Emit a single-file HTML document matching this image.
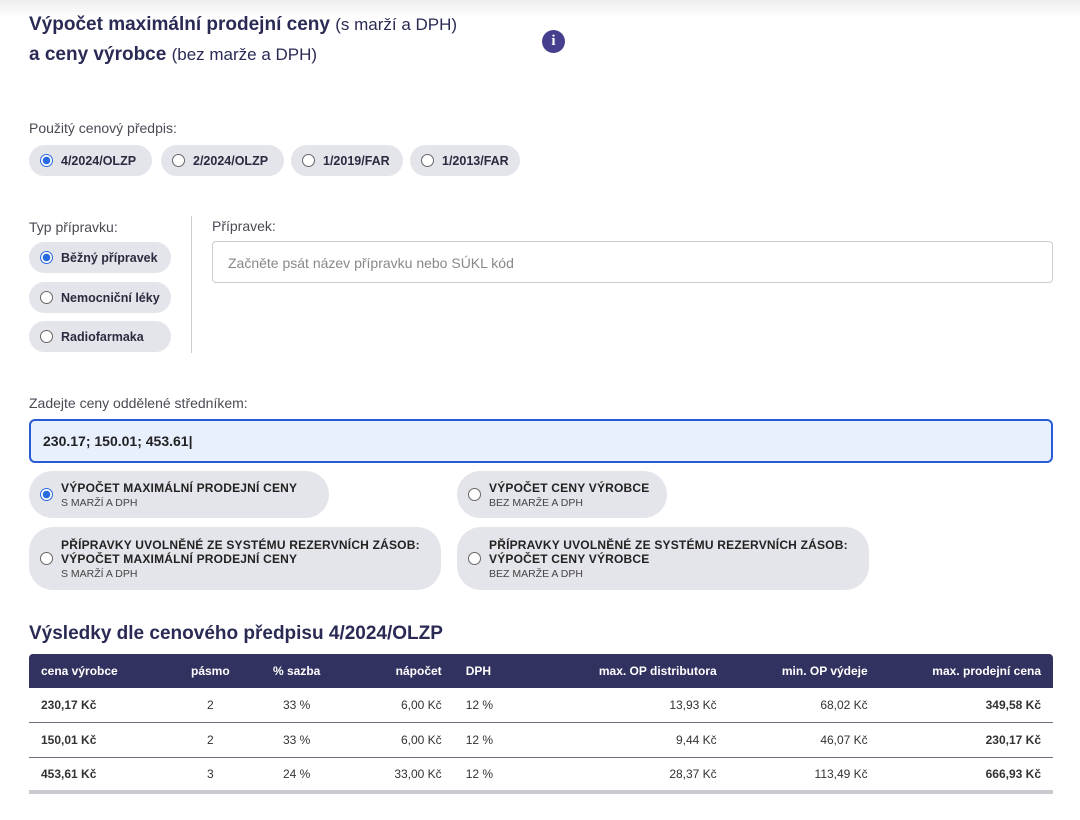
<!DOCTYPE html>
<html><head><meta charset="utf-8"><style>
*{box-sizing:border-box;margin:0;padding:0}
body{width:1080px;height:820px;background:#fff;font-family:"Liberation Sans",sans-serif;color:#26274a;position:relative;overflow:hidden}
.topfade{position:absolute;left:0;top:0;width:1080px;height:18px;background:linear-gradient(#ededed,#fff)}
.abs{position:absolute}
.h{font-weight:bold;font-size:19px;color:#2a2b55;white-space:nowrap}
.h span{font-weight:normal;font-size:17px}
.lbl{font-size:14px;color:#4a4a55;white-space:nowrap}
.pill{position:absolute;background:#e4e5ea;border-radius:16px;font-size:12.5px;font-weight:bold;color:#2a2b40;display:flex;align-items:center;white-space:nowrap}
.rad{width:13px;height:13px;border:1px solid #666;border-radius:50%;background:#fff;display:inline-block;margin:0 8px 0 11px;flex:none}
.rad.on{border:1px solid #2a6ae0;background:radial-gradient(circle,#2a6ae0 3.5px,#fff 4px)}
.opt{position:absolute;background:#e4e5ea;border-radius:24px;display:flex;align-items:center;font-size:12px;color:#222}
.opt b{display:block;font-weight:bold;letter-spacing:.2px}
.opt i{display:block;font-style:normal;font-size:10.5px;color:#444;margin-top:2px}
table{position:absolute;left:29px;top:654px;width:1024px;border-collapse:collapse;font-size:12px}
th{background:#31325f;color:#fff;height:34px;font-weight:bold;padding:0 12px}
td{height:34.5px;padding:0 12px;border-bottom:1px solid #6c6d80;color:#333}
tr:last-child td{border-bottom:4px solid #c9cad0}
.l{text-align:left}.r{text-align:right}.c{text-align:center}
</style></head><body>
<div class="topfade"></div>
<div class="abs h" style="left:29px;top:14px">Výpočet maximální prodejní ceny <span>(s marží a DPH)</span></div>
<div class="abs h" style="left:29px;top:44px">a ceny výrobce <span>(bez marže a DPH)</span></div>
<div class="abs" style="left:542px;top:30px;width:23px;height:23px;border-radius:50%;background:#463f8e;color:#fff;font:bold 15px 'Liberation Serif',serif;text-align:center;line-height:23px">i</div>

<div class="abs lbl" style="left:29px;top:120px">Použitý cenový předpis:</div>
<div class="pill" style="left:29px;top:145px;width:123px;height:31px"><span class="rad on"></span>4/2024/OLZP</div>
<div class="pill" style="left:161px;top:145px;width:123px;height:31px"><span class="rad"></span>2/2024/OLZP</div>
<div class="pill" style="left:291px;top:145px;width:112px;height:31px"><span class="rad"></span>1/2019/FAR</div>
<div class="pill" style="left:410px;top:145px;width:110px;height:31px"><span class="rad"></span>1/2013/FAR</div>

<div class="abs lbl" style="left:29px;top:219px">Typ přípravku:</div>
<div class="pill" style="left:29px;top:242px;width:142px;height:31px"><span class="rad on"></span>Běžný přípravek</div>
<div class="pill" style="left:29px;top:282px;width:142px;height:31px"><span class="rad"></span>Nemocniční léky</div>
<div class="pill" style="left:29px;top:321px;width:142px;height:31px"><span class="rad"></span>Radiofarmaka</div>
<div class="abs" style="left:191px;top:216px;width:1px;height:137px;background:#ccc"></div>
<div class="abs lbl" style="left:212px;top:218px">Přípravek:</div>
<div class="abs" style="left:212px;top:241px;width:841px;height:42px;border:1px solid #ccc;border-radius:4px;font-size:14px;color:#888;padding:13px 15px">Začněte psát název přípravku nebo SÚKL kód</div>

<div class="abs lbl" style="left:29px;top:395px">Zadejte ceny oddělené středníkem:</div>
<div class="abs" style="left:29px;top:419px;width:1024px;height:44px;border:2px solid #2a5bd7;border-radius:6px;background:#e8effd;font-size:14px;font-weight:bold;color:#222;padding:12px 12px">230.17; 150.01; 453.61|</div>

<div class="opt" style="left:29px;top:471px;width:300px;height:47px"><span class="rad on"></span><div><b>VÝPOČET MAXIMÁLNÍ PRODEJNÍ CENY</b><i>S MARŽÍ A DPH</i></div></div>
<div class="opt" style="left:457px;top:471px;width:210px;height:47px"><span class="rad"></span><div><b>VÝPOČET CENY VÝROBCE</b><i>BEZ MARŽE A DPH</i></div></div>
<div class="opt" style="left:29px;top:527px;width:412px;height:63px"><span class="rad"></span><div><b>PŘÍPRAVKY UVOLNĚNÉ ZE SYSTÉMU REZERVNÍCH ZÁSOB:</b><b>VÝPOČET MAXIMÁLNÍ PRODEJNÍ CENY</b><i>S MARŽÍ A DPH</i></div></div>
<div class="opt" style="left:457px;top:527px;width:412px;height:63px"><span class="rad"></span><div><b>PŘÍPRAVKY UVOLNĚNÉ ZE SYSTÉMU REZERVNÍCH ZÁSOB:</b><b>VÝPOČET CENY VÝROBCE</b><i>BEZ MARŽE A DPH</i></div></div>

<div class="abs h" style="left:29px;top:623px">Výsledky dle cenového předpisu 4/2024/OLZP</div>
<table>
<tr><th class="l" style="width:150px;border-top-left-radius:4px">cena výrobce</th><th class="c" style="width:60px">pásmo</th><th class="c" style="width:110px">% sazba</th><th class="r" style="width:102px">nápočet</th><th class="l" style="width:80px">DPH</th><th class="r" style="width:195px">max. OP distributora</th><th class="r" style="width:151px">min. OP výdeje</th><th class="r" style="border-top-right-radius:4px">max. prodejní cena</th></tr>
<tr><td class="l"><b>230,17 Kč</b></td><td class="c">2</td><td class="c">33 %</td><td class="r">6,00 Kč</td><td class="l">12 %</td><td class="r">13,93 Kč</td><td class="r">68,02 Kč</td><td class="r"><b>349,58 Kč</b></td></tr>
<tr><td class="l"><b>150,01 Kč</b></td><td class="c">2</td><td class="c">33 %</td><td class="r">6,00 Kč</td><td class="l">12 %</td><td class="r">9,44 Kč</td><td class="r">46,07 Kč</td><td class="r"><b>230,17 Kč</b></td></tr>
<tr><td class="l"><b>453,61 Kč</b></td><td class="c">3</td><td class="c">24 %</td><td class="r">33,00 Kč</td><td class="l">12 %</td><td class="r">28,37 Kč</td><td class="r">113,49 Kč</td><td class="r"><b>666,93 Kč</b></td></tr>
</table>
</body></html>
